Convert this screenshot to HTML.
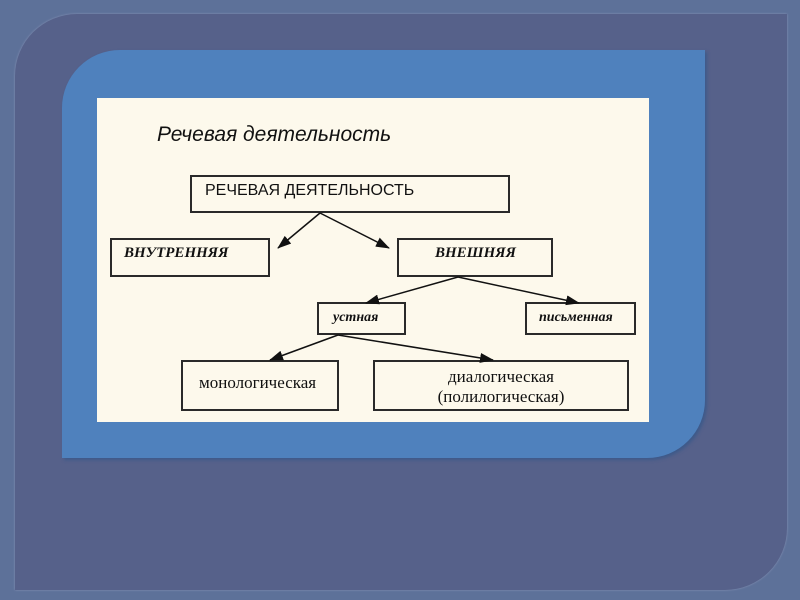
<!DOCTYPE html>
<html><head><meta charset="utf-8"><style>
body{margin:0;width:800px;height:600px;background:#5d7199;position:relative;overflow:hidden;font-family:"Liberation Sans",sans-serif}
.o{position:absolute;left:15px;top:14px;width:772px;height:576px;background:#56618a;border-radius:62px 0 62px 0;box-shadow:0 0 2px #8a96b8}
.b{position:absolute;left:62px;top:50px;width:643px;height:408px;background:#4f81bd;border-radius:58px 0 58px 0;box-shadow:2px 2px 3px #3d5a8a}
.w{position:absolute;left:97px;top:98px;width:552px;height:324px;background:#fdf9ec}
.bx{position:absolute;border:2px solid #2a2a2a;box-sizing:border-box;background:#fdf9ec;color:#111;white-space:nowrap}
.t{font-family:"Liberation Serif",serif;font-style:italic;font-weight:bold;font-size:15px}
</style></head><body>
<div class="o"></div><div class="b"></div><div class="w"></div>
<div style="position:absolute;left:157px;top:123px;font-style:italic;font-size:21px;color:#111">Речевая деятельность</div>
<div class="bx" style="left:190px;top:175px;width:320px;height:38px;font-size:16px;padding:5px 0 0 13px">РЕЧЕВАЯ ДЕЯТЕЛЬНОСТЬ</div>
<div class="bx t" style="left:110px;top:238px;width:160px;height:39px;padding:5px 0 0 12px">ВНУТРЕННЯЯ</div>
<div class="bx t" style="left:397px;top:238px;width:156px;height:39px;padding:5px 0 0 36px">ВНЕШНЯЯ</div>
<div class="bx t" style="left:317px;top:302px;width:89px;height:33px;padding:6px 0 0 14px;font-size:14px">устная</div>
<div class="bx t" style="left:525px;top:302px;width:111px;height:33px;padding:6px 0 0 12px;font-size:14px">письменная</div>
<div class="bx" style="left:181px;top:360px;width:158px;height:51px;font-family:'Liberation Serif',serif;font-size:17px;padding:11px 0 0 16px">монологическая</div>
<div class="bx" style="left:373px;top:360px;width:256px;height:51px;font-family:'Liberation Serif',serif;font-size:17px;text-align:center;line-height:20px;padding-top:5px">диалогическая<br>(полилогическая)</div>
<svg style="position:absolute;left:0;top:0" width="800" height="600">
<defs><marker id="a" markerWidth="14" markerHeight="10" refX="13" refY="5" orient="auto" markerUnits="userSpaceOnUse"><path d="M0,0L14,5L0,10z" fill="#111"/></marker></defs>
<g stroke="#111" stroke-width="1.5" marker-end="url(#a)">
<line x1="320" y1="213" x2="278" y2="248"/>
<line x1="320" y1="213" x2="389" y2="248"/>
<line x1="458" y1="277" x2="366" y2="303"/>
<line x1="458" y1="277" x2="579" y2="303"/>
<line x1="338" y1="335" x2="270" y2="360"/>
<line x1="338" y1="335" x2="493" y2="360"/>
</g></svg>
</body></html>
